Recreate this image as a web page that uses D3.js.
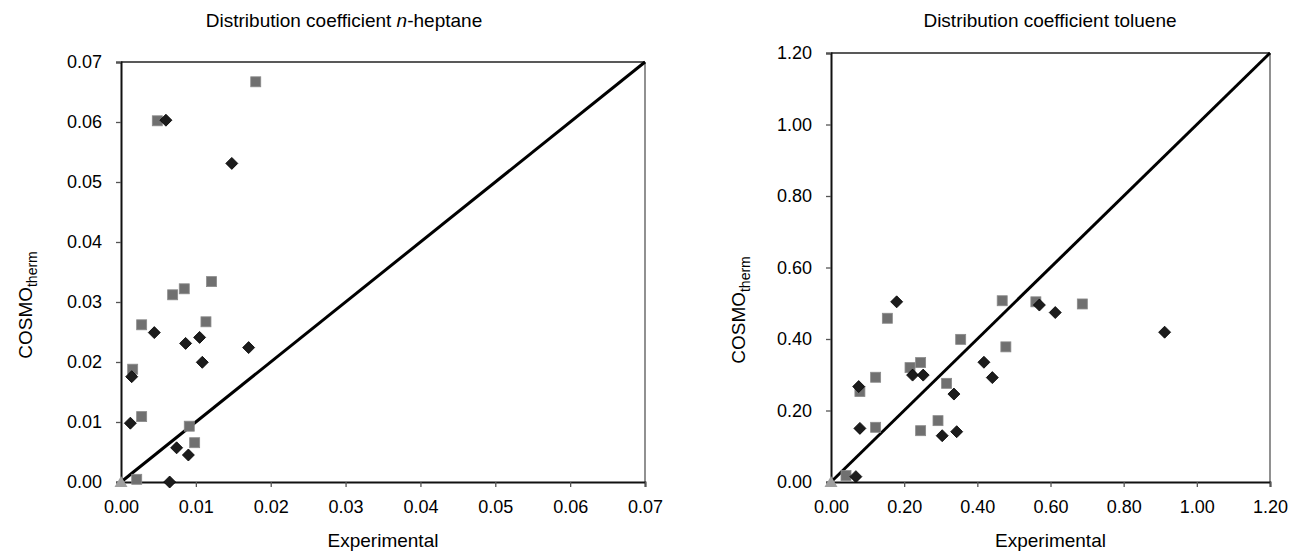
<!DOCTYPE html>
<html><head><meta charset="utf-8">
<script src="https://cdn.jsdelivr.net/npm/d3@7"></script>
<style>
html,body{margin:0;padding:0;background:#fff;}
text{font-family:"Liberation Sans",Arial,Helvetica,sans-serif;fill:#000;}
</style></head>
<body><svg id="c" width="1289" height="551"></svg>
<script>
// ---- data ----
const heptaneTicks = [0,0.01,0.02,0.03,0.04,0.05,0.06,0.07];
const heptaneSquaresX = [0.018,0.00485,0.0069,0.00845,0.0121,0.00276,0.01135,0.00156,0.00276,0.00912,0.00984,0.0021];
const heptaneSquaresY = [0.0667,0.0602,0.0312,0.0322,0.0334,0.0262,0.0267,0.0188,0.0109,0.0093,0.00655,0.00045];
const heptaneDiamondsX = [0.006,0.0148,0.00445,0.0105,0.00863,0.01705,0.01086,0.00143,0.00125,0.00743,0.009,0.0065];
const heptaneDiamondsY = [0.0603,0.0531,0.0249,0.0241,0.0231,0.0224,0.01995,0.01755,0.0098,0.0057,0.0045,0.0];
const heptaneTriangleX = [0];
const heptaneTriangleY = [0];

const tolueneTicks = [0,0.2,0.4,0.6,0.8,1.0,1.2];
const tolueneSquaresX = [0.041,0.079,0.122,0.122,0.154,0.216,0.245,0.245,0.2925,0.316,0.3545,0.468,0.478,0.56,0.687];
const tolueneSquaresY = [0.018,0.253,0.293,0.153,0.458,0.32,0.334,0.1435,0.1716,0.276,0.399,0.507,0.378,0.504,0.498];
const tolueneDiamondsX = [0.068,0.0757,0.079,0.1795,0.223,0.252,0.304,0.336,0.3436,0.418,0.441,0.5696,0.613,0.912];
const tolueneDiamondsY = [0.015,0.267,0.150,0.504,0.299,0.299,0.1295,0.246,0.1407,0.335,0.292,0.495,0.474,0.419];
const tolueneTriangleX = [0];
const tolueneTriangleY = [0];

const svg = d3.select("#c");

function panel(opt){
  const g = svg.append("g");
  const x = d3.scaleLinear().domain([0,opt.max]).range([opt.x0,opt.x1]);
  const y = d3.scaleLinear().domain([0,opt.max]).range([opt.y0,opt.y1]);
  // frame top/right
  g.append("line").attr("x1",opt.x0).attr("x2",opt.x1).attr("y1",opt.y1).attr("y2",opt.y1).attr("stroke","#222").attr("stroke-width",1.3);
  g.append("line").attr("x1",opt.x1).attr("x2",opt.x1).attr("y1",opt.y1).attr("y2",opt.y0).attr("stroke","#555").attr("stroke-width",1.3);
  // axes
  const xa = g.append("g").attr("transform",`translate(0,${opt.y0})`)
    .call(d3.axisBottom(x).tickValues(opt.ticks).tickFormat(d3.format(".2f")).tickSizeOuter(0).tickSize(5).tickPadding(13));
  const ya = g.append("g").attr("transform",`translate(${opt.x0},0)`)
    .call(d3.axisLeft(y).tickValues(opt.ticks).tickFormat(d3.format(".2f")).tickSizeOuter(0).tickSize(5).tickPadding(14));
  [xa,ya].forEach(a=>{
    a.selectAll("text").attr("font-size",18).attr("font-family","Liberation Sans, Arial, sans-serif").attr("fill","#000");
    a.selectAll(".tick line").attr("stroke","#555").attr("stroke-width",1.3);
  });
  xa.select(".domain").attr("stroke","#111").attr("stroke-width",1.8);
  ya.select(".domain").attr("stroke","#111").attr("stroke-width",2);
  // diagonal
  g.append("line").attr("x1",x(0)).attr("y1",y(0)).attr("x2",x(opt.max)).attr("y2",y(opt.max))
    .attr("stroke","#000").attr("stroke-width",3);
  // squares
  const sq = opt.sx.map((v,i)=>[v,opt.sy[i]]);
  g.selectAll(".sq").data(sq).enter().append("rect")
    .attr("x",d=>x(d[0])-5).attr("y",d=>y(d[1])-5).attr("width",10).attr("height",10)
    .attr("fill","#707070").attr("stroke","#8a8a8a").attr("stroke-width",0.8);
  // diamonds
  const dm = opt.dx.map((v,i)=>[v,opt.dy[i]]);
  g.selectAll(".dm").data(dm).enter().append("path")
    .attr("d",d=>{const cx=x(d[0]),cy=y(d[1]),r=6;return `M${cx},${cy-r}L${cx+r},${cy}L${cx},${cy+r}L${cx-r},${cy}Z`;})
    .attr("fill","#1c1c1c").attr("stroke","#000").attr("stroke-width",0.8);
  // triangles
  const tr = opt.tx.map((v,i)=>[v,opt.ty[i]]);
  g.selectAll(".tr").data(tr).enter().append("path")
    .attr("d",d=>{const cx=x(d[0]),cy=y(d[1]);return `M${cx},${cy-6}L${cx+6.5},${cy+5}L${cx-6.5},${cy+5}Z`;})
    .attr("fill","#a0a0a0");
  // title
  const t = g.append("text").attr("x",opt.titleX).attr("y",27).attr("text-anchor","middle").attr("font-size",19);
  opt.title.forEach(p=>t.append("tspan").text(p[0]).attr("font-style",p[1]?"italic":"normal"));
  // x label
  g.append("text").attr("x",(opt.x0+opt.x1)/2).attr("y",547).attr("text-anchor","middle").attr("font-size",19).text("Experimental");
  // y label
  const yl = g.append("text").attr("transform",`translate(${opt.ylX},${opt.ylY}) rotate(-90)`).attr("text-anchor","middle").attr("font-size",19);
  yl.append("tspan").text("COSMO");
  yl.append("tspan").text("therm").attr("font-size",14).attr("dy",5);
}

panel({max:0.07,x0:121,x1:645,y0:482,y1:62,ticks:heptaneTicks,
  sx:heptaneSquaresX,sy:heptaneSquaresY,dx:heptaneDiamondsX,dy:heptaneDiamondsY,tx:heptaneTriangleX,ty:heptaneTriangleY,
  title:[["Distribution coefficient ",false],["n",true],["-heptane",false]],titleX:344,ylX:32,ylY:305});
panel({max:1.2,x0:831,x1:1270,y0:482,y1:53,ticks:tolueneTicks,
  sx:tolueneSquaresX,sy:tolueneSquaresY,dx:tolueneDiamondsX,dy:tolueneDiamondsY,tx:tolueneTriangleX,ty:tolueneTriangleY,
  title:[["Distribution coefficient toluene",false]],titleX:1050,ylX:745,ylY:310});
</script></body></html>
